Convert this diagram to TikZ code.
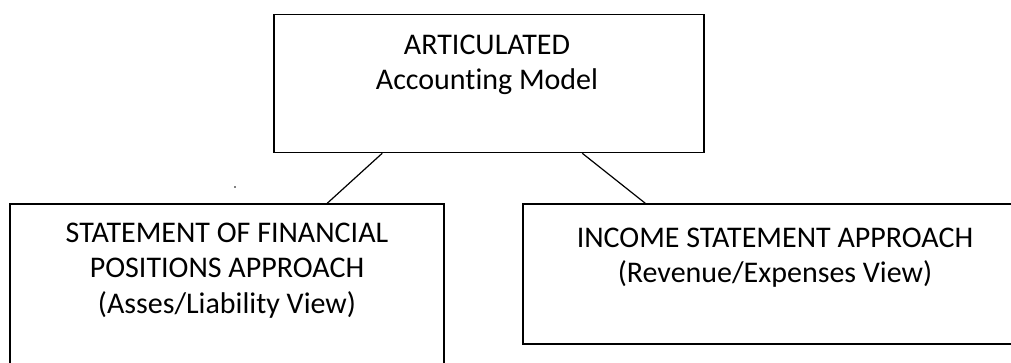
\documentclass[tikz,border=0pt]{standalone}
\usepackage{fontspec}
\setmainfont{Carlito}[Ligatures={NoCommon}]
\begin{document}
\begin{tikzpicture}[x=1pt, y=-1pt, font=\fontsize{30}{35.5}\selectfont, line width=1.5pt]
        \tikzset{box/.style={draw, rectangle, inner sep=0pt},
                 txt/.style={anchor=north, align=center, inner sep=0pt}}
        \useasboundingbox (0,0) rectangle (1011,362);
        \clip (0,0) rectangle (1011,362);
        \node[box, minimum width=430pt, minimum height=138pt] (model) at (489,83.5) {};
        \node[box, minimum width=434pt, minimum height=200pt] (sfp) at (227,304) {};
        \node[box, minimum width=520pt, minimum height=140pt] (isa) at (783,274) {};
        \node[txt] (modeltxt) at (487,34) {ARTICULATED\\Accounting Model};
        \node[txt] (sfptxt) at (227,222) {STATEMENT OF FINANCIAL\\POSITIONS APPROACH\\(Asses/Liability View)};
        \node[txt] (isatxt) at (775,227) {INCOME STATEMENT APPROACH\\(Revenue/Expenses View)};
        \draw[line width=1.2pt] ([xshift=109pt]model.south west) -- ([xshift=318pt]sfp.north west);
        \draw[line width=1.2pt] ([xshift=309pt]model.south west) -- ([xshift=123pt]isa.north west);
        \fill (235,187) circle (0.8pt);
    \end{tikzpicture}
\end{document}
